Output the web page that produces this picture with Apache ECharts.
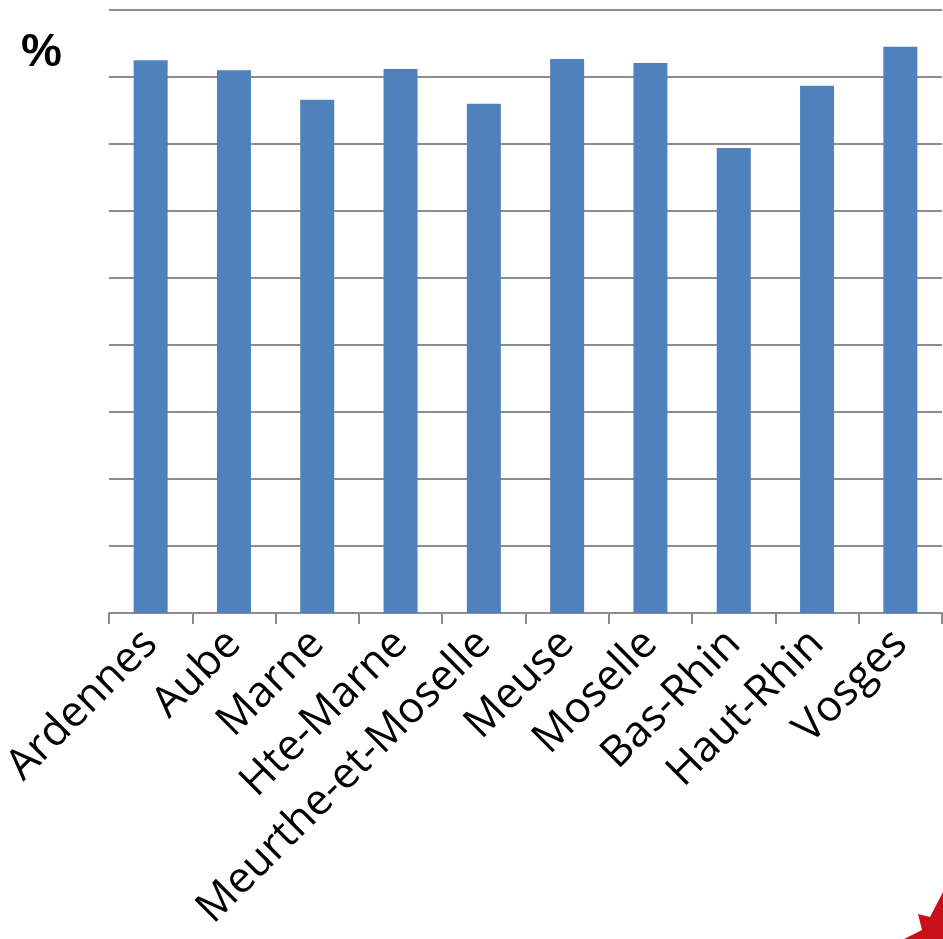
<!DOCTYPE html>
<html>
<head>
<meta charset="utf-8">
<script src="https://cdn.jsdelivr.net/npm/echarts@6/dist/echarts.min.js"></script>
<style>
  html, body { margin: 0; padding: 0; background: #fff; }
  #chart { width: 943px; height: 939px; }
</style>
</head>
<body>
<div id="chart"></div>
<script>
// départements et valeurs (%)
var categories = ['Ardennes', 'Aube', 'Marne', 'Hte-Marne', 'Meurthe-et-Moselle',
  'Meuse', 'Moselle', 'Bas-Rhin', 'Haut-Rhin', 'Vosges'];
var values = [82.5, 81.0, 76.6, 81.2, 76.0, 82.7, 82.1, 69.4, 78.7, 84.5];

var myChart = echarts.init(document.getElementById('chart'));

var option = {
  animation: false,
  grid: { left: 109, right: 1, top: 10, bottom: 326, outerBoundsMode: 'none' },
  xAxis: {
    type: 'category',
    data: categories,
    axisLine: { lineStyle: { color: '#8c8c8c', width: 2 } },
    axisTick: { show: true, length: 11, lineStyle: { color: '#8c8c8c', width: 2 } },
    axisLabel: {
      rotate: 45,
      interval: 0,
      margin: 24,
      fontSize: 43,
      color: '#000',
      fontFamily: 'Open Sans'
    }
  },
  yAxis: {
    type: 'value',
    min: 0,
    max: 90,
    interval: 10,
    axisLine: { show: false },
    axisTick: { show: false },
    axisLabel: { show: false },
    splitLine: { lineStyle: { color: '#8c8c8c', width: 2 } }
  },
  series: [{
    type: 'bar',
    data: values,
    barWidth: 34,
    itemStyle: { color: '#4f81bd' }
  }],
  graphic: [
    {
      type: 'text',
      left: 21,
      top: 30,
      style: { text: '%', fontSize: 46, fontWeight: 'bold', fill: '#000', fontFamily: 'Liberation Sans' }
    },
    {
      type: 'polygon',
      shape: { points: [[943, 892], [930, 917], [918, 914], [922, 930], [904, 939], [943, 939]] },
      style: { fill: '#c8101a' }
    }
  ]
};

myChart.setOption(option);
</script>
</body>
</html>
